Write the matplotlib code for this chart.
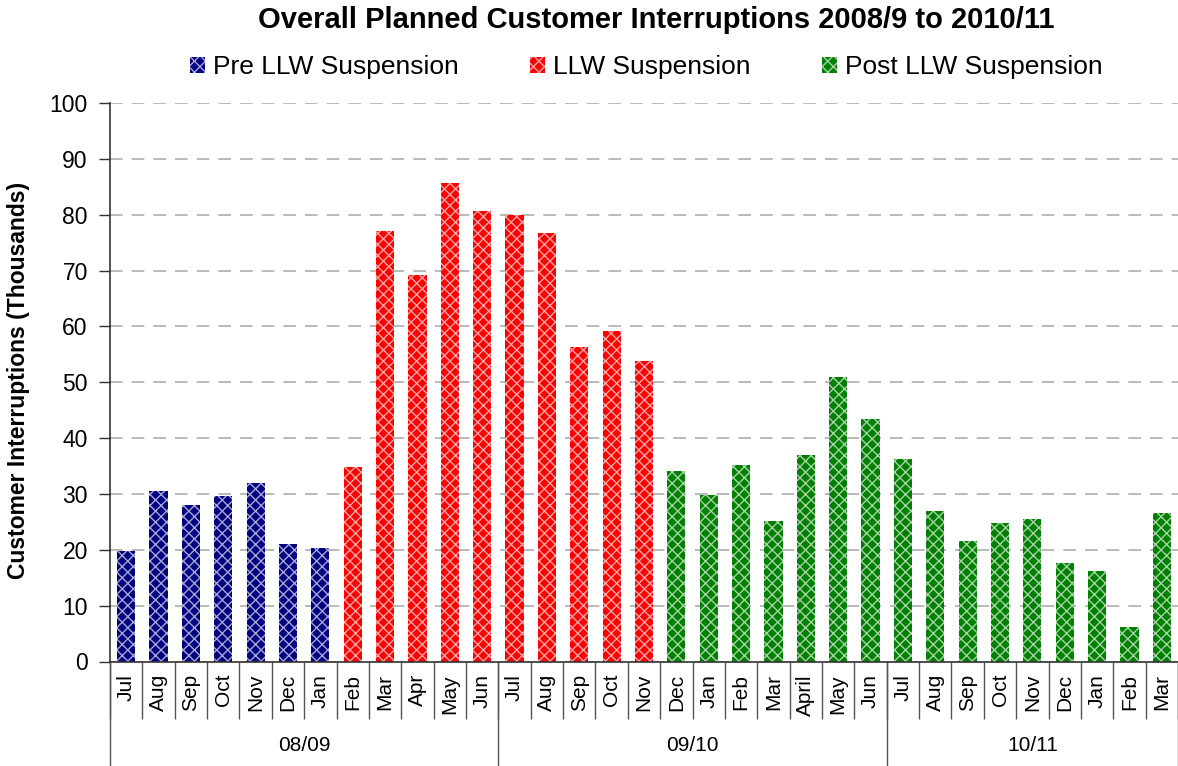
import matplotlib
matplotlib.use('Agg')
import matplotlib.pyplot as plt
from matplotlib.patches import Patch

plt.rcParams['font.family'] = ['Liberation Sans', 'DejaVu Sans']
plt.rcParams['hatch.linewidth'] = 1.0

months = ['Jul', 'Aug', 'Sep', 'Oct', 'Nov', 'Dec', 'Jan', 'Feb', 'Mar', 'Apr', 'May', 'Jun',
          'Jul', 'Aug', 'Sep', 'Oct', 'Nov', 'Dec', 'Jan', 'Feb', 'Mar', 'April', 'May', 'Jun',
          'Jul', 'Aug', 'Sep', 'Oct', 'Nov', 'Dec', 'Jan', 'Feb', 'Mar']
values = [19.7, 30.5, 28.0, 29.7, 31.9, 21.1, 20.4,
          34.8, 77.1, 69.2, 85.7, 80.7, 79.9, 76.7, 56.3, 59.2, 53.8,
          34.1, 29.8, 35.2, 25.2, 37.0, 50.9, 43.4,
          36.3, 26.9, 21.6, 24.8, 25.5, 17.6, 16.2, 6.2, 26.6]
phase = [0] * 7 + [1] * 10 + [2] * 16
phase_names = ['Pre LLW Suspension', 'LLW Suspension', 'Post LLW Suspension']
phase_colors = ['#000080', '#ff0000', '#008000']
years = ['08/09', '09/10', '10/11']
year_sizes = [12, 12, 9]

hatch = 'xxx'
hatch_col = (1, 1, 1, 0.65)

fig = plt.figure(figsize=(11.78, 7.66), dpi=100)
ax = fig.add_axes([110 / 1178, 1 - 661.5 / 766, 1068 / 1178, 558.5 / 766])

x = list(range(len(values)))
for i, v in enumerate(values):
    ax.bar(x[i], v, width=0.56, color=phase_colors[phase[i]],
           edgecolor=hatch_col, linewidth=0, hatch=hatch, zorder=2)

ax.set_xlim(-0.5, len(values) - 0.5)
ax.set_ylim(0, 100)
ax.set_yticks(range(0, 101, 10))
ax.yaxis.grid(True, linestyle=(0, (7, 5)), color='#b4b4b4', linewidth=1.3, zorder=0)
ax.tick_params(axis='y', labelsize=16.5, length=8, width=1, color='#333333', pad=8)

for s in ['top', 'right']:
    ax.spines[s].set_visible(False)
for s in ['left', 'bottom']:
    ax.spines[s].set_color('#333333')
    ax.spines[s].set_linewidth(1.2)

# boundaries as major ticks (long), month labels on minor ticks
ax.set_xticks([i - 0.5 for i in range(len(values) + 1)])
ax.set_xticklabels([])
ax.tick_params(axis='x', which='major', length=41, width=1, color='#555555')
ax.set_xticks(x, minor=True)
ax.set_xticklabels(months, minor=True, rotation=90, fontsize=15)
ax.tick_params(axis='x', which='minor', length=0, pad=9)

# year group separators and labels
trans = ax.get_xaxis_transform()
start = -0.5
for name, n in zip(years, year_sizes):
    ax.plot([start, start], [0, -0.19], transform=trans, color='#555555',
            linewidth=1, clip_on=False)
    ax.text(start + n / 2, -0.151, name, transform=trans, ha='center',
            va='center', fontsize=15)
    start += n
ax.plot([start, start], [0, -0.19], transform=trans, color='#555555',
        linewidth=1, clip_on=False)

fig.text(19 / 1178, 1 - 380 / 766, 'Customer Interruptions (Thousands)',
         rotation=90, ha='center', va='center', fontsize=16.5, fontweight='bold')
fig.text(656 / 1178, 1 - 20 / 766,
         'Overall Planned Customer Interruptions 2008/9 to 2010/11',
         ha='center', va='center', fontsize=21, fontweight='bold')

handles = [Patch(facecolor=c, edgecolor=hatch_col, linewidth=0, hatch=hatch)
           for c in phase_colors]
fig.legend(handles, phase_names, ncol=3, loc='center',
           bbox_to_anchor=(646 / 1178, 1 - 67 / 766), frameon=False,
           fontsize=19, handlelength=0.57, handleheight=0.57,
           handletextpad=0.3, columnspacing=2.7)

plt.savefig('out.png', dpi=100)
